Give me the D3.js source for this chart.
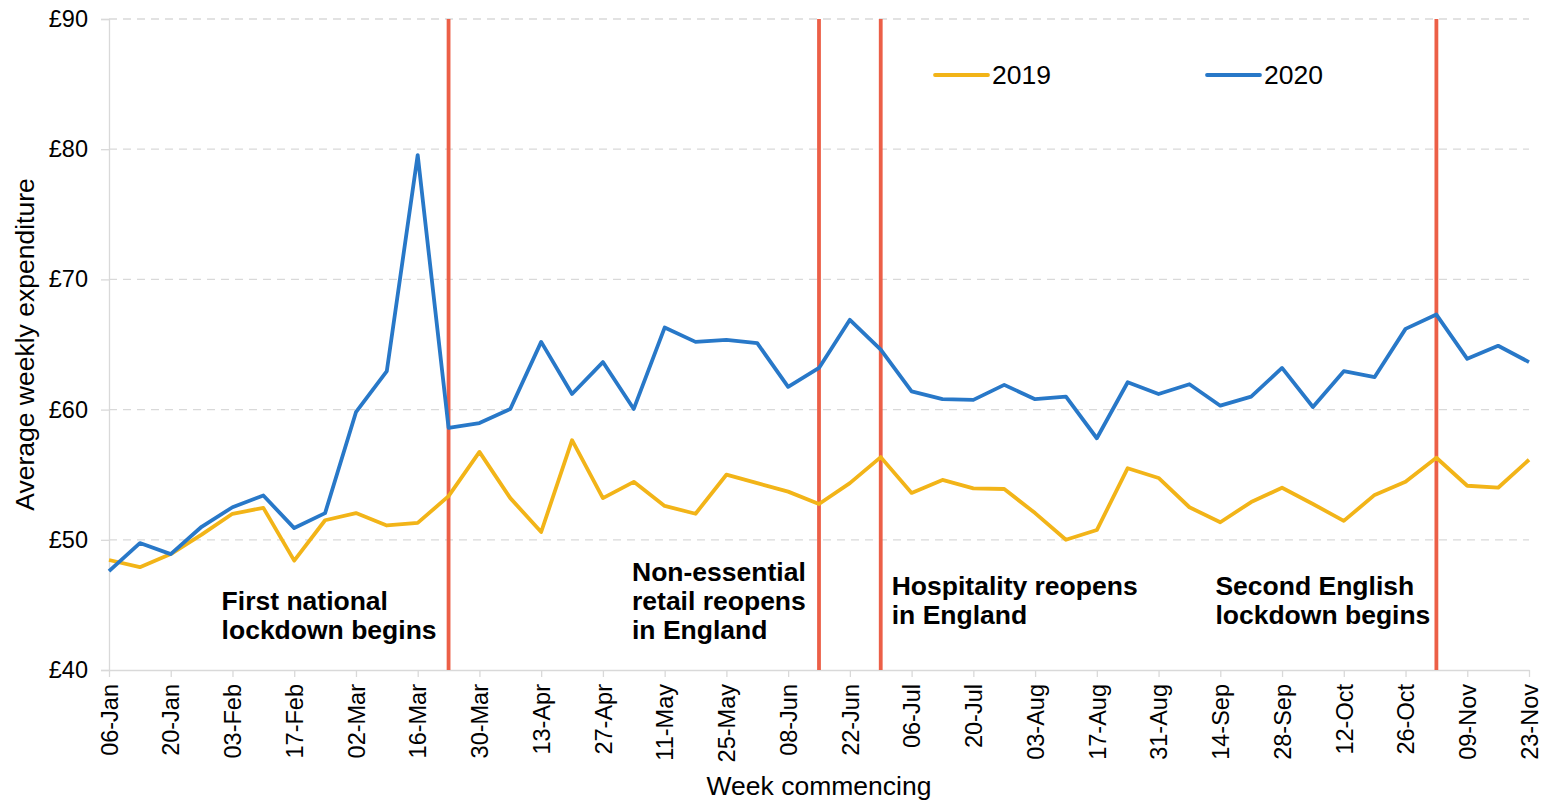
<!DOCTYPE html>
<html>
<head>
<meta charset="utf-8">
<script src="https://cdn.jsdelivr.net/npm/d3@7"></script>
<style>
  body { margin: 0; background: #fff; }
  svg { display: block; font-family: "Liberation Sans", Arial, sans-serif; }
</style>
</head>
<body>
<div id="chart"></div>
<script>
// Data //
const weeks = ["06-Jan","13-Jan","20-Jan","27-Jan","03-Feb","10-Feb","17-Feb","24-Feb",
  "02-Mar","09-Mar","16-Mar","23-Mar","30-Mar","06-Apr","13-Apr","20-Apr","27-Apr",
  "04-May","11-May","18-May","25-May","01-Jun","08-Jun","15-Jun","22-Jun","29-Jun",
  "06-Jul","13-Jul","20-Jul","27-Jul","03-Aug","10-Aug","17-Aug","24-Aug","31-Aug",
  "07-Sep","14-Sep","21-Sep","28-Sep","05-Oct","12-Oct","19-Oct","26-Oct",
  "02-Nov","09-Nov","16-Nov","23-Nov"];

const spend2019 = [48.45, 47.9, 48.9, 50.4, 52.0, 52.45, 48.4, 51.5, 52.05, 51.1, 51.3, 53.35,
  56.75, 53.2, 50.6, 57.65, 53.2, 54.45, 52.6, 52.0, 55.0, 54.35, 53.7, 52.75, 54.35, 56.35,
  53.6, 54.6, 53.95, 53.9, 52.05, 50.0, 50.75, 55.5, 54.75, 52.5, 51.35, 52.9, 54.0, 52.75,
  51.45, 53.45, 54.45, 56.3, 54.15, 54.0, 56.15];

const spend2020 = [47.6, 49.75, 48.9, 51.0, 52.5, 53.4, 50.9, 52.05, 59.8, 62.96, 79.55, 58.6,
  58.97, 60.05, 65.2, 61.2, 63.65, 60.05, 66.3, 65.2, 65.35, 65.1, 61.75, 63.2, 66.9, 64.6,
  61.4, 60.8, 60.75, 61.9, 60.8, 61.0, 57.8, 62.1, 61.2, 61.95, 60.3, 61.0, 63.2, 60.2,
  62.95, 62.5, 66.2, 67.3, 63.9, 64.9, 63.65];

const yTicks = [40, 50, 60, 70, 80, 90];

const eventWeeks = ["23-Mar", "15-Jun", "29-Jun", "02-Nov"];
const eventLabels = [
  ["First national", "lockdown begins"],
  ["Non-essential", "retail reopens", "in England"],
  ["Hospitality reopens", "in England"],
  ["Second English", "lockdown begins"]
];

const seriesNames = ["2019", "2020"];
const seriesColors = ["#F2B418", "#2878C8"];

/* Canvas */
const W = 1549, H = 802;
const margin = { top: 19, right: 20, bottom: 132, left: 109 };
const width = W - margin.left - margin.right;
const height = H - margin.top - margin.bottom;

const svg = d3.select("#chart").append("svg")
  .attr("width", W)
  .attr("height", H);

const g = svg.append("g")
  .attr("transform", `translate(${margin.left},${margin.top})`);

/* Scales */
const xScale = d3.scalePoint()
  .domain(weeks)
  .range([0, width]);

const yScale = d3.scaleLinear()
  .domain([40, 90])
  .range([height, 0]);

// Gridlines
g.append("g")
  .selectAll("line")
  .data(yTicks.filter(d => d > 40))
  .join("line")
  .attr("x1", 0).attr("x2", width)
  .attr("y1", d => yScale(d)).attr("y2", d => yScale(d))
  .attr("stroke", "#d9d9d9")
  .attr("stroke-width", 1.3)
  .attr("stroke-dasharray", "8 6");

/* Y axis */
const yAxis = d3.axisLeft(yScale)
  .tickValues(yTicks)
  .tickSize(8)
  .tickPadding(13)
  .tickFormat(d => "£" + d);

g.append("g")
  .call(yAxis)
  .call(a => a.select(".domain").attr("stroke", "#d9d9d9").attr("stroke-width", 1.3))
  .call(a => a.selectAll(".tick line").attr("stroke", "#d9d9d9").attr("stroke-width", 1.3))
  .selectAll("text")
  .attr("font-family", "Liberation Sans, Arial, sans-serif")
  .attr("font-size", "23.5px")
  .attr("fill", "#000");

/* X axis */
const xAxis = d3.axisBottom(xScale)
  .tickValues(weeks.filter((d, i) => i % 2 === 0))
  .tickSize(7)
  .tickSizeOuter(0);

g.append("g")
  .attr("transform", `translate(0,${height})`)
  .call(xAxis)
  .call(a => a.select(".domain").attr("stroke", "#d9d9d9").attr("stroke-width", 1.3))
  .call(a => a.selectAll(".tick line").attr("stroke", "#d9d9d9").attr("stroke-width", 1.3))
  .selectAll("text")
  .attr("font-family", "Liberation Sans, Arial, sans-serif")
  .attr("font-size", "23.5px")
  .attr("fill", "#000")
  .attr("text-anchor", "end")
  .attr("transform", "rotate(-90)")
  .attr("x", -14)
  .attr("y", 0)
  .attr("dy", "0.35em");

/* Event lines */
g.append("g")
  .selectAll("line")
  .data(eventWeeks)
  .join("line")
  .attr("x1", d => xScale(d)).attr("x2", d => xScale(d))
  .attr("y1", 0).attr("y2", height)
  .attr("stroke", "#EC5F47")
  .attr("stroke-width", 3.8);

/* Series lines */
const line = d3.line()
  .x((d, i) => xScale(weeks[i]))
  .y(d => yScale(d));

[spend2019, spend2020].forEach((s, k) => {
  g.append("path")
    .datum(s)
    .attr("fill", "none")
    .attr("stroke", seriesColors[k])
    .attr("stroke-width", 3.8)
    .attr("stroke-linejoin", "round")
    .attr("d", line);
});

/* Event annotations (dx from event line, first baseline in px) */
const annoLayout = [
  { dx: -12, anchor: "end", y: 591 },
  { dx: -187, anchor: "start", y: 562 },
  { dx: 11, anchor: "start", y: 576 },
  { dx: -221, anchor: "start", y: 576 }
];

eventLabels.forEach((lines, k) => {
  const lay = annoLayout[k];
  const t = g.append("text")
    .attr("x", xScale(eventWeeks[k]) + lay.dx)
    .attr("y", lay.y)
    .attr("font-size", "26.5px")
    .attr("font-weight", "bold")
    .attr("fill", "#000");
  lines.forEach((ln, j) => {
    t.append("tspan")
      .attr("x", xScale(eventWeeks[k]) + lay.dx)
      .attr("dy", j === 0 ? 0 : 29)
      .text(ln);
  });
  // block right-aligned against the line, lines left-aligned inside it
  if (lay.anchor === "end") {
    const bb = t.node().getBBox();
    t.selectAll("tspan").attr("x", xScale(eventWeeks[k]) + lay.dx - bb.width);
  }
});

/* Legend */
const legend = svg.append("g");
const legendX = [935, 1207];
seriesNames.forEach((name, k) => {
  legend.append("line")
    .attr("x1", legendX[k]).attr("x2", legendX[k] + 53)
    .attr("y1", 75).attr("y2", 75)
    .attr("stroke", seriesColors[k])
    .attr("stroke-width", 3.8)
    .attr("stroke-linecap", "round");
  legend.append("text")
    .attr("x", legendX[k] + 57)
    .attr("y", 84)
    .attr("font-size", "26.5px")
    .attr("fill", "#000")
    .text(name);
});

/* Axis titles */
svg.append("text")
  .attr("x", margin.left + width / 2)
  .attr("y", 795)
  .attr("text-anchor", "middle")
  .attr("font-size", "26.5px")
  .attr("fill", "#000")
  .text("Week commencing");

svg.append("text")
  .attr("transform", `translate(34,${margin.top + height / 2}) rotate(-90)`)
  .attr("text-anchor", "middle")
  .attr("font-size", "26.5px")
  .attr("fill", "#000")
  .text("Average weekly expenditure");
</script>
</body>
</html>
